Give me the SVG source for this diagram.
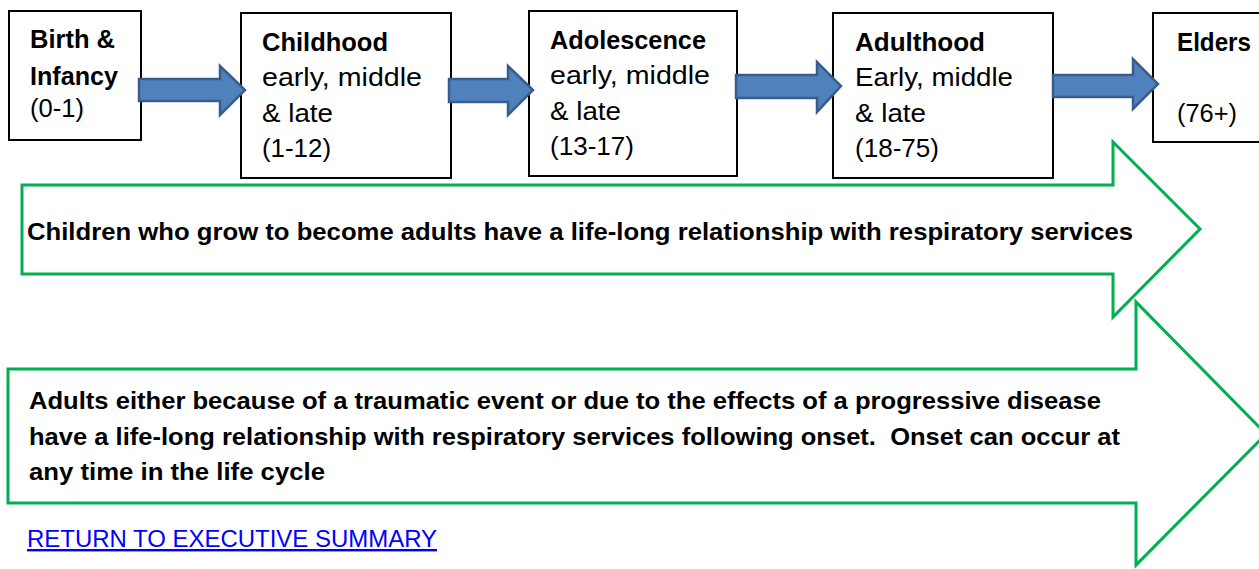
<svg xmlns="http://www.w3.org/2000/svg" width="1259" height="569" viewBox="0 0 1259 569">
  <style>
    .box { fill: #ffffff; stroke: #000000; stroke-width: 2; }
    .flow { fill: #4f81bd; stroke: #385d8a; stroke-width: 2.5; stroke-linejoin: miter; }
    .band { fill: #ffffff; stroke: #00b050; stroke-width: 3; stroke-linejoin: miter; }
    text { font-family: "Liberation Sans", Arial, sans-serif; fill: #000000; }
    .hd { font-size: 25px; font-weight: bold; }
    .tx { font-size: 26px; }
    .bt { font-size: 24px; font-weight: bold; }
    .link { font-size: 24px; fill: #0000ff; text-decoration: underline; }
  </style>

  <!-- wide green arrows carrying the relationship statements -->
  <g id="band-children">
    <polygon class="band" points="22,185 1113,185 1113,142 1200,229 1113,317 1113,274 22,274"/>
    <text class="bt" x="27" y="240" textLength="1106" lengthAdjust="spacingAndGlyphs">Children who grow to become adults have a life-long relationship with respiratory services</text>
  </g>
  <g id="band-adults">
    <polygon class="band" points="8,369 1136,369 1136,302 1266,434 1136,565 1136,503 8,503"/>
    <text class="bt" x="29" y="409" textLength="1072" lengthAdjust="spacingAndGlyphs">Adults either because of a traumatic event or due to the effects of a progressive disease</text>
    <text class="bt" x="29" y="445" textLength="1091" lengthAdjust="spacingAndGlyphs" xml:space="preserve">have a life-long relationship with respiratory services following onset.  Onset can occur at</text>
    <text class="bt" x="29" y="480" textLength="296" lengthAdjust="spacingAndGlyphs">any time in the life cycle</text>
  </g>

  <!-- life stage boxes -->
  <g id="stage-birth">
    <rect class="box" x="9" y="11" width="132" height="129"/>
    <text class="hd" x="30" y="48" textLength="85" lengthAdjust="spacingAndGlyphs">Birth &amp;</text>
    <text class="hd" x="30" y="85" textLength="88" lengthAdjust="spacingAndGlyphs">Infancy</text>
    <text class="tx" x="30" y="117" textLength="54" lengthAdjust="spacingAndGlyphs">(0-1)</text>
  </g>
  <g id="stage-childhood">
    <rect class="box" x="241" y="13" width="210" height="165"/>
    <text class="hd" x="262" y="51" textLength="126" lengthAdjust="spacingAndGlyphs">Childhood</text>
    <text class="tx" x="262" y="86" textLength="160" lengthAdjust="spacingAndGlyphs">early, middle</text>
    <text class="tx" x="262" y="122" textLength="71" lengthAdjust="spacingAndGlyphs">&amp; late</text>
    <text class="tx" x="262" y="157" textLength="69" lengthAdjust="spacingAndGlyphs">(1-12)</text>
  </g>
  <g id="stage-adolescence">
    <rect class="box" x="529" y="11" width="208" height="165"/>
    <text class="hd" x="550" y="49" textLength="156" lengthAdjust="spacingAndGlyphs">Adolescence</text>
    <text class="tx" x="550" y="84" textLength="160" lengthAdjust="spacingAndGlyphs">early, middle</text>
    <text class="tx" x="550" y="120" textLength="71" lengthAdjust="spacingAndGlyphs">&amp; late</text>
    <text class="tx" x="550" y="155" textLength="84" lengthAdjust="spacingAndGlyphs">(13-17)</text>
  </g>
  <g id="stage-adulthood">
    <rect class="box" x="833" y="13" width="220" height="165"/>
    <text class="hd" x="855" y="51" textLength="130" lengthAdjust="spacingAndGlyphs">Adulthood</text>
    <text class="tx" x="855" y="86" textLength="158" lengthAdjust="spacingAndGlyphs">Early, middle</text>
    <text class="tx" x="855" y="122" textLength="71" lengthAdjust="spacingAndGlyphs">&amp; late</text>
    <text class="tx" x="855" y="157" textLength="84" lengthAdjust="spacingAndGlyphs">(18-75)</text>
  </g>
  <g id="stage-elders">
    <rect class="box" x="1153" y="13" width="120" height="129"/>
    <text class="hd" x="1177" y="51" textLength="74" lengthAdjust="spacingAndGlyphs">Elders</text>
    <text class="tx" x="1177" y="122" textLength="60" lengthAdjust="spacingAndGlyphs">(76+)</text>
  </g>

  <!-- block arrows between stages -->
  <g id="connectors">
    <polygon class="flow" points="139,79 220,79 220,66 245,90 220,115 220,101 139,101"/>
    <polygon class="flow" points="449,79 508,79 508,66 533,90 508,115 508,102 449,102"/>
    <polygon class="flow" points="736,75 817,75 817,62 841,86 817,112 817,98 736,98"/>
    <polygon class="flow" points="1053,75 1133,75 1133,59 1158,84 1133,109 1133,97 1053,97"/>
  </g>

  <g id="link-summary">
    <text class="link" x="27" y="547" textLength="410" lengthAdjust="spacingAndGlyphs">RETURN TO EXECUTIVE SUMMARY</text>
  </g>
</svg>
